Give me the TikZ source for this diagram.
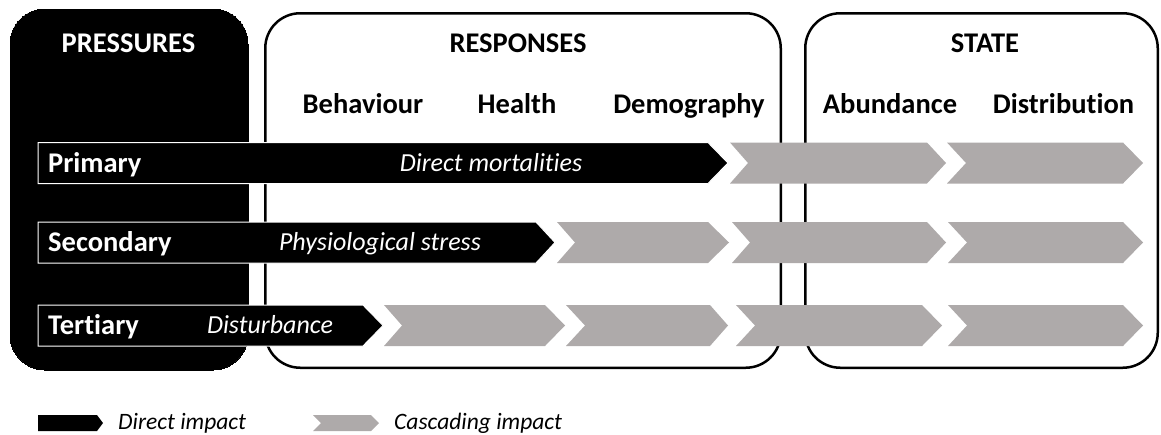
\documentclass[tikz,border=0pt]{standalone}
\usepackage{fontspec}
\setmainfont{Carlito}[Ligatures={NoCommon}]
\definecolor{cascgray}{HTML}{AEAAAA}
\newcommand{\graychev}[5]{% x0 notch bodyend tip yc
  \fill[cascgray] (#1,#5-20.5) -- (#3,#5-20.5) -- (#4,#5) -- (#3,#5+20.5) -- (#1,#5+20.5) -- (#2,#5) -- cycle;}
\newcommand{\blackbar}[3]{% bodyend tip yc
  \filldraw[fill=black, draw=white, line width=1pt] (38,#3-20.5) -- (#1,#3-20.5) -- (#2,#3) -- (#1,#3+20.5) -- (38,#3+20.5) -- cycle;}
\begin{document}
\begin{tikzpicture}[x=1pt,y=-1pt,
  panel/.style={rounded corners=35pt, line width=2.5pt, inner sep=0pt},
  hdr/.style={font=\bfseries\fontsize{28.5}{30}\selectfont, anchor=base, inner sep=0pt},
  rowlab/.style={font=\bfseries\fontsize{28.5}{30}\selectfont, anchor=base west, inner sep=0pt, text=white},
  imp/.style={font=\itshape\fontsize{26}{28}\selectfont, anchor=base, inner sep=0pt, text=white},
  leg/.style={font=\itshape\fontsize{23.5}{25}\selectfont, anchor=base west, inner sep=0pt}]
\useasboundingbox (0,0) rectangle (1161,434);
% panels
\node[panel, fill=black, draw=black, line width=0pt, minimum width=238pt, minimum height=361pt] (pressures) at (129,189.5) {};
\node[panel, draw=black, fill=white, minimum width=515.5pt, minimum height=354.5pt] (responses) at (523,190.5) {};
\node[panel, draw=black, fill=white, minimum width=352.5pt, minimum height=354.5pt] (state) at (981.5,190.5) {};
% headers
\node[hdr, text=white] (hpress) at (128.5,52) {PRESSURES};
\node[hdr] (hresp) at (518,52) {RESPONSES};
\node[hdr] (hstate) at (985,52) {STATE};
\node[hdr] (hbeh) at (363,113) {Behaviour};
\node[hdr] (hhealth) at (517,113) {Health};
\node[hdr] (hdemo) at (689,113) {Demography};
\node[hdr] (habund) at (890,113) {Abundance};
\node[hdr] (hdist) at (1063.5,113) {Distribution};
% row 1
\blackbar{708}{728}{163}
\graychev{730}{748}{927}{946}{163}
\graychev{947}{966}{1123}{1143}{163}
% row 2
\blackbar{536}{555}{242.5}
\graychev{557}{575}{708}{729}{242.5}
\graychev{732}{750}{927}{946}{242.5}
\graychev{948}{967}{1123}{1143}{242.5}
% row 3
\blackbar{363}{383}{325.5}
\graychev{384}{402}{545}{565}{325.5}
\graychev{566}{585}{710}{728}{325.5}
\graychev{736}{755}{922}{942}{325.5}
\graychev{948}{967}{1123}{1143}{325.5}
% row labels
\node[rowlab] (lprim) at (48,172) {Primary};
\node[rowlab] (lsec) at (48,251.5) {Secondary};
\node[rowlab] (lter) at (48,334) {Tertiary};
\node[imp] (tmort) at (491,171) {Direct mortalities};
\node[imp] (tstress) at (380,250.5) {Physiological stress};
\node[imp] (tdist) at (270,333.5) {Disturbance};
% legend
\fill[black] (38,415) -- (97,415) -- (103,423) -- (97,431) -- (38,431) -- cycle;
\fill[cascgray] (313,415) -- (371,415) -- (379,423) -- (371,431) -- (313,431) -- (321,423) -- cycle;
\node[leg] (ldirect) at (118,429) {Direct impact};
\node[leg] (lcasc) at (394,429) {Cascading impact};
\end{tikzpicture}
\end{document}
